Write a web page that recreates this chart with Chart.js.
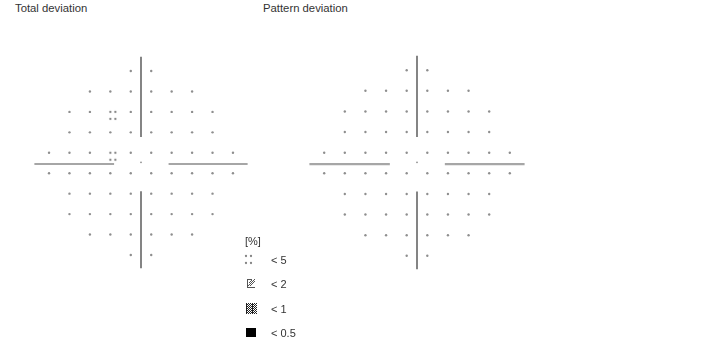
<!DOCTYPE html>
<html><head><meta charset="utf-8">
<script src="https://cdn.jsdelivr.net/npm/chart.js@4"></script>
<style>
html,body{margin:0;padding:0;background:#fff;width:726px;height:341px;overflow:hidden;position:relative;font-family:"Liberation Sans",Arial,sans-serif;color:#333}
.t{position:absolute;font-size:11.3px;line-height:13px;white-space:nowrap}
.panel{position:absolute;width:228px;height:228px;top:49px}
.lg{position:absolute;font-size:11px;line-height:13px;white-space:nowrap;color:#333}
.sym{position:absolute}
</style></head><body>
<div class="t" style="left:15px;top:2px">Total deviation</div>
<div class="t" style="left:263px;top:2px">Pattern deviation</div>
<div class="panel" style="left:27px"><canvas id="c1"></canvas></div>
<div class="panel" style="left:303px"><canvas id="c2"></canvas></div>
<div id="legend"></div>
<script>
// ---- data ----
const rowY = [27, 21, 15, 9, 3, -3, -9, -15, -21, -27];
const rowX = [
  [-3, 3],
  [-15, -9, -3, 3, 9, 15],
  [-21, -15, -9, -3, 3, 9, 15, 21],
  [-21, -15, -9, -3, 3, 9, 15, 21],
  [-27, -21, -15, -9, -3, 3, 9, 15, 21, 27],
  [-27, -21, -15, -9, -3, 3, 9, 15, 21, 27],
  [-21, -15, -9, -3, 3, 9, 15, 21],
  [-21, -15, -9, -3, 3, 9, 15, 21],
  [-15, -9, -3, 3, 9, 15],
  [-3, 3]
];
const fixation = [{x: 0, y: 0.2}];
// probability symbols (level in %)
const totalDevSymbols = [{x: -9, y: 15, level: '5'}, {x: -9, y: 3, level: '5'}];
const patternDevSymbols = [];
// cross-hair segments [x1,y1,x2,y2] in degrees
const hSegments = [[-31.3, -0.3, -7.9, -0.3], [8.1, -0.3, 31.3, -0.3]];
const vSegments = [[0, 7.6, 0, 31.2], [0, -8.3, 0, -30.9]];
const legendLevels = ['5', '2', '1', '0.5'];
const legendLabels = ['< 5', '< 2', '< 1', '< 0.5'];

// ---- symbol images ----
function makeSym(level) {
  const c = document.createElement('canvas');
  const g = c.getContext('2d');
  if (level === '5') {
    c.width = 14; c.height = 18;
    g.fillStyle = '#858585';
    [[7, 9], [12, 9], [7, 16], [12, 16]].forEach(p => { g.beginPath(); g.arc(p[0], p[1], 1.15, 0, Math.PI * 2); g.fill(); });
  } else if (level === '2') {
    c.width = 11; c.height = 11;
    g.strokeStyle = '#555'; g.lineWidth = 1;
    g.beginPath();
    g.moveTo(1, 1.5); g.lineTo(6, 1.5);
    g.moveTo(1.5, 1); g.lineTo(1.5, 10);
    g.moveTo(1, 9.5); g.lineTo(9, 9.5);
    g.moveTo(2, 8); g.lineTo(9, 1);
    g.moveTo(3, 5); g.lineTo(6, 2);
    g.moveTo(4, 8); g.lineTo(9, 3);
    g.stroke();
  } else if (level === '1') {
    c.width = 11; c.height = 11;
    g.fillStyle = '#222';
    for (let y = 0; y < 11; y++) for (let x = 0; x < 11; x++) {
      if ((x + y) % 2 === 0 || (x % 3 === 0 && y % 2 === 1)) g.fillRect(x, y, 1, 1);
    }
  } else {
    c.width = 10; c.height = 9;
    g.fillStyle = '#000'; g.fillRect(0, 0, 10, 9);
  }
  return c;
}
const symImg = {};
legendLevels.forEach(l => symImg[l] = makeSym(l));

// ---- charts ----
function buildPanel(id, symbols) {
  const gridPts = [];
  rowY.forEach((y, i) => rowX[i].forEach(x => {
    if (!symbols.some(s => s.x === x && s.y === y)) gridPts.push({x, y});
  }));
  const datasets = [];
  hSegments.forEach(s => datasets.push({data: [{x: s[0], y: s[1]}, {x: s[2], y: s[3]}], showLine: true, borderColor: '#a6a6a6', borderWidth: 2.2, pointRadius: 0}));
  vSegments.forEach(s => datasets.push({data: [{x: s[0], y: s[1]}, {x: s[2], y: s[3]}], showLine: true, borderColor: '#666', borderWidth: 1.6, pointRadius: 0}));
  datasets.push({data: gridPts, pointRadius: 1.2, backgroundColor: '#8e8e8e', borderWidth: 0});
  datasets.push({data: fixation, pointRadius: 0.9, backgroundColor: '#8e8e8e', borderWidth: 0});
  if (symbols.length) datasets.push({data: symbols, pointStyle: symbols.map(s => symImg[s.level]), pointRadius: 5, borderWidth: 0});
  new Chart(document.getElementById(id), {
    type: 'scatter',
    data: {datasets},
    options: {
      responsive: true, maintainAspectRatio: false, animation: false,
      layout: {padding: 0},
      plugins: {legend: {display: false}, tooltip: {enabled: false}},
      scales: {
        x: {type: 'linear', min: -32, max: 32, display: false},
        y: {type: 'linear', min: -32, max: 32, display: false}
      },
      elements: {line: {tension: 0}}
    }
  });
}
buildPanel('c1', totalDevSymbols);
buildPanel('c2', patternDevSymbols);

// ---- legend ----
const lg = document.getElementById('legend');
const head = document.createElement('div');
head.className = 'lg'; head.style.left = '245px'; head.style.top = '235px'; head.textContent = '[%]';
lg.appendChild(head);
const rowsY = [260, 284, 309, 333];
legendLevels.forEach((l, i) => {
  const img = symImg[l];
  const s = document.createElement('canvas');
  s.width = img.width; s.height = img.height; s.className = 'sym';
  s.getContext('2d').drawImage(img, 0, 0);
  if (l === '5') { s.style.left = (246 - 7) + 'px'; s.style.top = (256 - 9) + 'px'; }
  else { s.style.left = '246px'; s.style.top = (rowsY[i] - Math.round(img.height / 2)) + 'px'; }
  lg.appendChild(s);
  const t = document.createElement('div');
  t.className = 'lg'; t.style.left = '271px'; t.style.top = (rowsY[i] - 6.5) + 'px'; t.textContent = legendLabels[i];
  lg.appendChild(t);
});
</script>
</body></html>
